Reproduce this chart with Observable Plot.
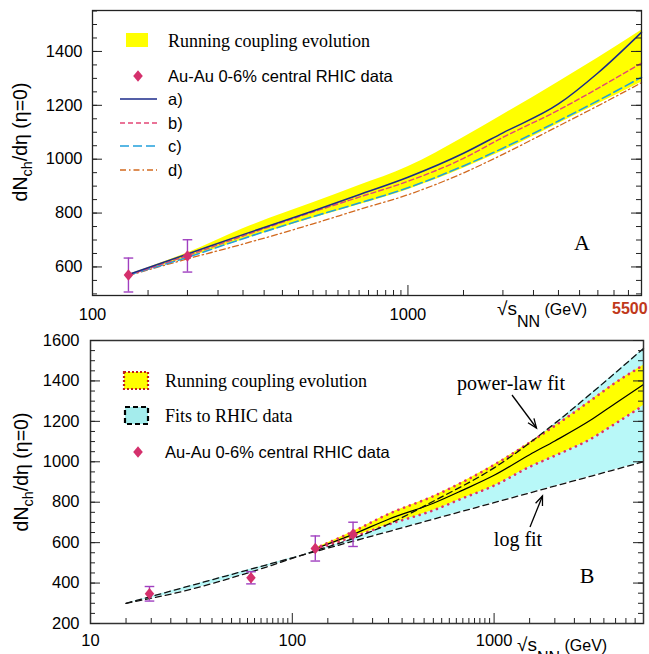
<!DOCTYPE html>
<html><head><meta charset="utf-8">
<script src="https://cdn.jsdelivr.net/npm/d3@7"></script>
<script src="https://cdn.jsdelivr.net/npm/@observablehq/plot@0.6"></script>
<style>
body{margin:0;background:#fff;width:649px;height:654px;overflow:hidden;position:relative}
#pa{position:absolute;left:0;top:0}
#pb{position:absolute;left:0;top:325px}
</style></head><body>
<div id="pa"></div><div id="pb"></div>
<script>
// ---------- Panel A data ----------
const energiesA = [130, 200, 300, 500, 700, 1000, 1500, 2000, 3000, 4000, 5500];
const bandAUpper = [572, 652, 742, 838, 902, 972, 1081, 1165, 1287, 1376, 1479];
const bandALower = [569, 634, 701, 781, 831, 887, 966, 1030, 1132, 1205, 1286];
const curveA = [572, 648, 720, 808, 868, 933, 1022, 1098, 1205, 1320, 1471];
const curveB = [570, 642, 715, 804, 859, 918, 1003, 1081, 1182, 1263, 1357];
const curveC = [570, 636, 705, 787, 837, 894, 975, 1041, 1142, 1217, 1304];
const curveD = [568, 630, 685, 760, 813, 868, 949, 1018, 1123, 1198, 1284];
const rhicEnergiesA = [130, 200];
const rhicValuesA = [570, 641];
const rhicErrorsA = [63, 60];
const xTickLabelsA = [100, 1000];
const yTickLabelsA = [600, 800, 1000, 1200, 1400];

// ---------- Panel B data ----------
const energiesB = [130, 200, 300, 500, 700, 1000, 1500, 2000, 3000, 4000, 5500];
const bandBUpper = [572, 655, 742, 830, 900, 985, 1095, 1178, 1302, 1392, 1478];
const bandBLower = [568, 628, 690, 760, 820, 882, 975, 1030, 1112, 1190, 1279];
const bandBMid = [570, 641, 716, 795, 860, 933, 1035, 1103, 1205, 1290, 1382];
const fitEnergies = [15, 30, 62.4, 130, 200, 300, 500, 1000, 2000, 3000, 5500];
const powerLawFit = [300, 364, 455, 560, 620, 692, 805, 970, 1190, 1335, 1561];
const logFit = [300, 382, 469, 556, 607, 655, 716, 798, 880, 928, 1000];
const rhicEnergiesB = [19.6, 62.4, 130, 200];
const rhicValuesB = [347, 426, 571, 641];
const rhicErrorsB = [36, 30, 62, 60];
const xTickLabelsB = [10, 100, 1000];
const yTickLabelsB = [200, 400, 600, 800, 1000, 1200, 1400, 1600];

// ---------- styles ----------
const SANS = "'Liberation Sans', Arial, Helvetica, sans-serif";
const SERIF = "'Liberation Serif', 'Times New Roman', serif";
const YELLOW = "#ffff00", NAVY = "#1b2a8a", PINK = "#e34675", CYAN = "#22a0dc", ORANGE = "#d2691e";
const CRIMSON = "#d4306c", PURPLE = "#a040c0", LIGHTCYAN = "#b8f8f8", DOTRED = "#e0306a";
const CAP = {draw(ctx, size) { const r = Math.sqrt(size / Math.PI); ctx.moveTo(-r, 0); ctx.lineTo(r, 0); }};
const DIAMOND = {draw(ctx, size) { const r = Math.sqrt(size / Math.PI); ctx.moveTo(0, -r * 1.15); ctx.lineTo(r * 0.95, 0); ctx.lineTo(0, r * 1.15); ctx.lineTo(-r * 0.95, 0); ctx.closePath(); }};
const pts = (xs, ys) => xs.map((s, i) => ({s, v: ys[i]}));
const band = (xs, lo, hi) => xs.map((s, i) => ({s, lo: lo[i], hi: hi[i]}));
const errs = (xs, ys, es) => xs.map((s, i) => ({s, v: ys[i], e: es[i]}));
const fmt = d => String(d);

function tickMarks(pw, ph, yMinor, yMajor, xMinor, xMajor) {
  const st = {stroke: "#222", strokeWidth: 1};
  return [
    Plot.tickY(yMinor, {y: d => d, insetRight: pw - 5, ...st}),
    Plot.tickY(yMajor, {y: d => d, insetRight: pw - 10, ...st}),
    Plot.tickY(yMinor, {y: d => d, insetLeft: pw - 5, ...st}),
    Plot.tickY(yMajor, {y: d => d, insetLeft: pw - 10, ...st}),
    Plot.tickX(xMinor, {x: d => d, insetTop: ph - 5, ...st}),
    Plot.tickX(xMajor, {x: d => d, insetTop: ph - 10, ...st})
  ];
}
function errorMarks(data) {
  return [
    Plot.ruleX(data, {x: "s", y1: d => d.v - d.e, y2: d => d.v + d.e, stroke: PURPLE, strokeWidth: 1.4}),
    Plot.dot(data, {x: "s", y: d => d.v + d.e, symbol: CAP, r: 4.8, fill: "none", stroke: PURPLE, strokeWidth: 1.4}),
    Plot.dot(data, {x: "s", y: d => d.v - d.e, symbol: CAP, r: 4.8, fill: "none", stroke: PURPLE, strokeWidth: 1.4}),
    Plot.dot(data, {x: "s", y: "v", symbol: DIAMOND, r: 5, fill: CRIMSON, stroke: "none"})
  ];
}
const plotStyle = {background: "transparent", fontFamily: SANS, fontSize: "16.5px", color: "#000", overflow: "visible"};

// ---------- Panel A ----------
const mA = {l: 92, r: 8, t: 10, b: 30}, WA = 649, HA = 325;
const pwA = WA - mA.l - mA.r, phA = HA - mA.t - mA.b;
const curveOpt = {x: "s", y: "v", curve: "monotone-x"};
const svgA = Plot.plot({
  width: WA, height: HA, marginLeft: mA.l, marginRight: mA.r, marginTop: mA.t, marginBottom: mA.b,
  x: {type: "log", domain: [100, 5500], label: null},
  y: {domain: [494, 1552], label: null},
  style: plotStyle,
  marks: [
    Plot.areaY(band(energiesA, bandALower, bandAUpper), {x: "s", y1: "lo", y2: "hi", fill: YELLOW, curve: "monotone-x"}),
    Plot.lineY(pts(energiesA, curveD), {...curveOpt, stroke: ORANGE, strokeWidth: 1.3, strokeDasharray: "6,3,1.5,3"}),
    Plot.lineY(pts(energiesA, curveC), {...curveOpt, stroke: CYAN, strokeWidth: 1.6, strokeDasharray: "9,4"}),
    Plot.lineY(pts(energiesA, curveB), {...curveOpt, stroke: PINK, strokeWidth: 1.4, strokeDasharray: "5,3"}),
    Plot.lineY(pts(energiesA, curveA), {...curveOpt, stroke: NAVY, strokeWidth: 1.5}),
    ...errorMarks(errs(rhicEnergiesA, rhicValuesA, rhicErrorsA)),
    Plot.frame({stroke: "#222", strokeWidth: 1.3}),
    ...tickMarks(pwA, phA, d3.range(500, 1551, 50), yTickLabelsA,
      [...d3.range(150, 951, 50), ...d3.range(1500, 5001, 500)], [1000]),
    Plot.axisX(xTickLabelsA, {tickSize: 0, tickPadding: 13, tickFormat: fmt, fontSize: 16.5, label: null}),
    Plot.axisY(yTickLabelsA, {tickSize: 0, tickPadding: 10, tickFormat: fmt, fontSize: 16.5, label: null})
  ]
});
document.getElementById("pa").appendChild(svgA);

// ---------- Panel B ----------
const mB = {l: 90, r: 6, t: 15, b: 31}, WB = 649, HB = 329;
const pwB = WB - mB.l - mB.r, phB = HB - mB.t - mB.b;
const dotted = {stroke: DOTRED, strokeWidth: 2.6, strokeDasharray: "0.1,6", strokeLinecap: "round"};
const svgB = Plot.plot({
  width: WB, height: HB, marginLeft: mB.l, marginRight: mB.r, marginTop: mB.t, marginBottom: mB.b,
  x: {type: "log", domain: [10, 5500], label: null},
  y: {domain: [200, 1600], label: null},
  style: plotStyle,
  marks: [
    Plot.areaY(band(fitEnergies, logFit, powerLawFit), {x: "s", y1: "lo", y2: "hi", fill: LIGHTCYAN, curve: "monotone-x"}),
    Plot.areaY(band(energiesB, bandBLower, bandBUpper), {x: "s", y1: "lo", y2: "hi", fill: YELLOW, curve: "monotone-x"}),
    Plot.lineY(pts(energiesB, bandBMid), {...curveOpt, stroke: "#000", strokeWidth: 1.2}),
    Plot.lineY(pts(energiesB, bandBUpper), {...curveOpt, ...dotted}),
    Plot.lineY(pts(energiesB, bandBLower), {...curveOpt, ...dotted}),
    Plot.lineY(pts(fitEnergies, powerLawFit), {...curveOpt, stroke: "#111", strokeWidth: 1.3, strokeDasharray: "6,4"}),
    Plot.lineY(pts(fitEnergies, logFit), {...curveOpt, stroke: "#111", strokeWidth: 1.3, strokeDasharray: "6,4"}),
    ...errorMarks(errs(rhicEnergiesB, rhicValuesB, rhicErrorsB)),
    Plot.frame({stroke: "#333", strokeWidth: 1.5}),
    ...tickMarks(pwB, phB, d3.range(200, 1601, 50), yTickLabelsB,
      [...d3.range(15, 96, 5), ...d3.range(150, 951, 50), ...d3.range(1500, 5001, 500)], [100, 1000]),
    Plot.axisX(xTickLabelsB, {tickSize: 0, tickPadding: 11, tickFormat: fmt, fontSize: 16.5, label: null}),
    Plot.axisY(yTickLabelsB, {tickSize: 0, tickPadding: 11, tickFormat: fmt, fontSize: 16.5, label: null})
  ]
});
document.getElementById("pb").appendChild(svgB);

// ---------- text helpers ----------
function txt(g, x, y, s, o = {}) {
  return g.append("text").attr("x", x).attr("y", y).attr("text-anchor", o.anchor || "start")
    .style("font-family", o.family || SANS).style("font-size", (o.size || 16.5) + "px")
    .style("font-weight", o.weight || "normal").attr("fill", o.fill || "#000").text(s);
}
function yTitle(g, x, y) {
  const t = g.append("text").attr("transform", `translate(${x},${y}) rotate(-90)`).attr("text-anchor", "middle")
    .style("font-family", SANS).style("font-size", "19.5px").attr("fill", "#000");
  t.append("tspan").text("dN");
  t.append("tspan").attr("dy", 5).style("font-size", "14.5px").text("ch");
  t.append("tspan").attr("dy", -5).text("/dη (η=0)");
}
function xTitle(g, x, y) {
  const t = g.append("text").attr("x", x).attr("y", y).attr("text-anchor", "start")
    .style("font-family", SANS).attr("fill", "#000");
  t.append("tspan").style("font-size", "19px").text("√s");
  t.append("tspan").attr("dy", 12).style("font-size", "16px").text("NN");
  t.append("tspan").attr("dy", -12).style("font-size", "16px").text(" (GeV)");
}
function diamond(g, cx, cy) {
  g.append("path").attr("d", `M${cx},${cy - 5.8}L${cx + 4.8},${cy}L${cx},${cy + 5.8}L${cx - 4.8},${cy}Z`).attr("fill", CRIMSON);
}
function arrow(g, x1, y1, x2, y2) {
  g.append("line").attr("x1", x1).attr("y1", y1).attr("x2", x2).attr("y2", y2).attr("stroke", "#000").attr("stroke-width", 1.3);
  const a = Math.atan2(y2 - y1, x2 - x1), L = 10, w = 0.38;
  const p1 = [x2 - L * Math.cos(a - w), y2 - L * Math.sin(a - w)];
  const p2 = [x2 - L * Math.cos(a + w), y2 - L * Math.sin(a + w)];
  g.append("path").attr("d", `M${p1}L${x2},${y2}L${p2}`).attr("fill", "none").attr("stroke", "#000").attr("stroke-width", 1.3);
}

// ---------- Panel A annotations ----------
const gA = d3.select(svgA).append("g");
gA.append("rect").attr("x", 126).attr("y", 33).attr("width", 22).attr("height", 14).attr("fill", YELLOW);
txt(gA, 168, 47, "Running coupling evolution", {family: SERIF, size: 18});
diamond(gA, 138, 76);
txt(gA, 168, 82, "Au-Au 0-6% central RHIC data");
const legLines = [
  ["a)", 99, {stroke: NAVY, w: 1.5, dash: null}],
  ["b)", 123, {stroke: PINK, w: 1.4, dash: "5,3"}],
  ["c)", 146, {stroke: CYAN, w: 1.6, dash: "9,4"}],
  ["d)", 170, {stroke: ORANGE, w: 1.3, dash: "6,3,1.5,3"}]
];
for (const [lab, y, st] of legLines) {
  gA.append("line").attr("x1", 120).attr("x2", 157).attr("y1", y).attr("y2", y)
    .attr("stroke", st.stroke).attr("stroke-width", st.w).attr("stroke-dasharray", st.dash);
  txt(gA, 168, y + 5.5, lab);
}
txt(gA, 582, 250, "A", {family: SERIF, size: 22, anchor: "middle"});
yTitle(gA, 27, 142);
xTitle(gA, 497, 315);
txt(gA, 612, 314, "5500", {weight: "bold", size: 16, fill: "#c0391b"});

// ---------- Panel B annotations ----------
const gB = d3.select(svgB).append("g");
gB.append("rect").attr("x", 124).attr("y", 47).attr("width", 24).attr("height", 17).attr("fill", YELLOW)
  .attr("stroke", "#c0201a").attr("stroke-width", 2.2).attr("stroke-dasharray", "2,2");
txt(gB, 165, 62, "Running coupling evolution", {family: SERIF, size: 18});
gB.append("rect").attr("x", 125).attr("y", 82).attr("width", 23).attr("height", 17).attr("fill", "#a4ecec")
  .attr("stroke", "#000").attr("stroke-width", 2.2).attr("stroke-dasharray", "5,3");
txt(gB, 165, 97, "Fits to RHIC data", {family: SERIF, size: 18});
diamond(gB, 138, 127);
txt(gB, 165, 132.5, "Au-Au 0-6% central RHIC data");
txt(gB, 511, 65, "power-law fit", {family: SERIF, size: 20, anchor: "middle"});
arrow(gB, 512, 70, 536.5, 103);
txt(gB, 518, 221, "log fit", {family: SERIF, size: 20, anchor: "middle"});
arrow(gB, 530, 202, 542.5, 171);
txt(gB, 587, 258, "B", {family: SERIF, size: 22, anchor: "middle"});
yTitle(gB, 28, 147);
xTitle(gB, 517, 326);
</script>
</body></html>
